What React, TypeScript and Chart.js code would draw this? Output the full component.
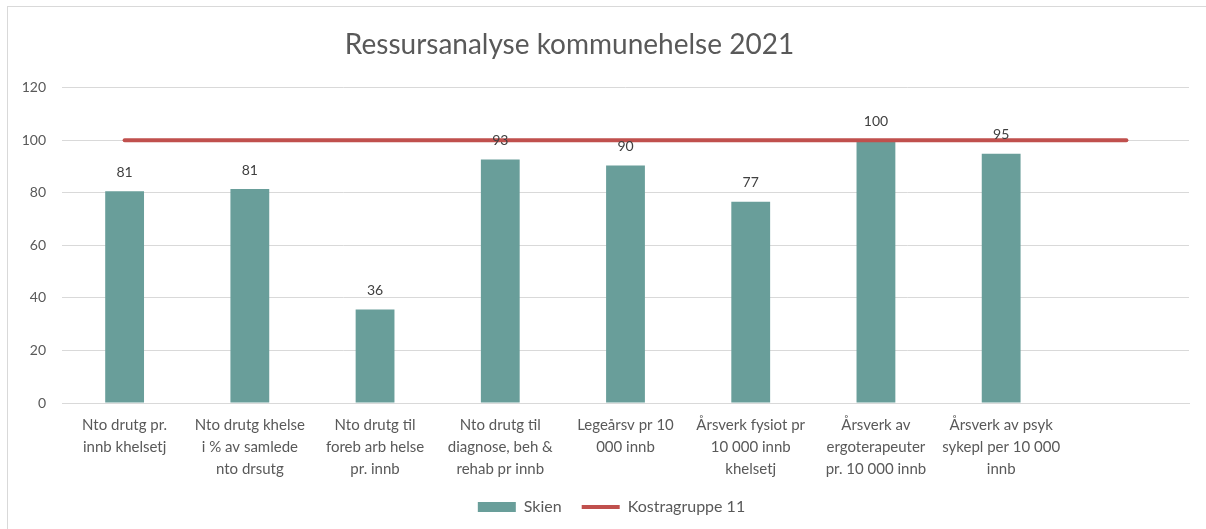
import React, { useEffect, useRef } from "react";
import { Chart, registerables } from "chart.js";

Chart.register(...registerables);

const TITLE = "Ressursanalyse kommunehelse 2021";

const CATEGORIES: string[][] = [
  ["Nto drutg pr.", "innb khelsetj"],
  ["Nto drutg khelse", "i % av samlede", "nto drsutg"],
  ["Nto drutg til", "foreb arb helse", "pr. innb"],
  ["Nto drutg til", "diagnose, beh &", "rehab pr innb"],
  ["Legeårsv pr 10", "000 innb"],
  ["Årsverk fysiot pr", "10 000 innb", "khelsetj"],
  ["Årsverk av", "ergoterapeuter", "pr. 10 000 innb"],
  ["Årsverk av psyk", "sykepl per 10 000", "innb"],
  [""],
];

const SKIEN_LABEL = "Skien";
const SKIEN: (number | null)[] = [80.6, 81.4, 35.6, 92.6, 90.4, 76.6, 100, 94.8, null];

const KOSTRA_LABEL = "Kostragruppe 11";
const KOSTRA: number[] = [100, 100, 100, 100, 100, 100, 100, 100, 100];

const Y_MIN = 0;
const Y_MAX = 120;
const Y_STEP = 20;

const FONT = "Lato";
const TEXT = "#595959";
const GRID = "#d9d9d9";
const BAR = "#699E9A";
const LINE = "#C0504D";

const valueLabels = {
  id: "valueLabels",
  afterLayout(chart: any) {
    // Title sits a little left of the canvas centre, legend a little right and higher
    if (chart.titleBlock) chart.titleBlock.right -= 58;
    if (chart.legend) {
      chart.legend.left += 13;
      chart.legend.right += 13;
      chart.legend.top -= 11;
      chart.legend.bottom -= 11;
    }
  },
  afterDatasetsDraw(chart: any) {
    const meta = chart.getDatasetMeta(0);
    const ctx = chart.ctx;
    ctx.save();
    ctx.font = `14px ${FONT}`;
    ctx.fillStyle = "#404040";
    ctx.textAlign = "center";
    ctx.textBaseline = "middle";
    meta.data.forEach((el: any, i: number) => {
      const v = SKIEN[i];
      if (v == null) return;
      ctx.fillText(String(Math.round(v)), el.x, el.y - 19);
    });
    ctx.restore();
  },
};

export default function App() {
  const ref = useRef<HTMLCanvasElement | null>(null);

  useEffect(() => {
    if (!ref.current) return;
    const chart = new Chart(ref.current, {
      type: "bar",
      data: {
        labels: CATEGORIES,
        datasets: [
          {
            type: "bar",
            label: SKIEN_LABEL,
            data: SKIEN,
            backgroundColor: BAR,
            borderWidth: 0,
            barPercentage: 0.31,
            categoryPercentage: 1,
            order: 2,
            pointStyle: "rect",
          } as any,
          {
            type: "line",
            label: KOSTRA_LABEL,
            data: KOSTRA,
            borderColor: LINE,
            backgroundColor: LINE,
            borderWidth: 4,
            borderCapStyle: "round",
            pointRadius: 0,
            pointHoverRadius: 0,
            fill: false,
            order: 1,
            pointStyle: "line",
          } as any,
        ],
      },
      options: {
        responsive: false,
        animation: false,
        layout: { padding: { left: 0, right: 17, top: 0, bottom: 1 } },
        plugins: {
          title: {
            display: true,
            text: TITLE,
            color: TEXT,
            font: { family: FONT, size: 28, weight: "normal" },
            padding: { top: 21, bottom: 26 },
          },
          legend: {
            position: "bottom",
            labels: {
              usePointStyle: true,
              pointStyleWidth: 38,
              boxHeight: 10,
              padding: 20,
              color: TEXT,
              font: { family: FONT, size: 16 },
              sort: (a: any, b: any) => a.datasetIndex - b.datasetIndex,
            },
          },
          tooltip: { enabled: false },
        },
        scales: {
          x: {
            grid: { display: false },
            border: { display: true, color: GRID },
            ticks: {
              color: TEXT,
              font: { family: FONT, size: 15, lineHeight: 1.4667 },
              padding: 3,
              maxRotation: 0,
              autoSkip: false,
            },
            afterFit: (s: any) => {
              s.height = 87;
            },
          },
          y: {
            min: Y_MIN,
            max: Y_MAX,
            grid: { color: GRID, drawTicks: false },
            border: { display: false },
            ticks: {
              stepSize: Y_STEP,
              color: TEXT,
              font: { family: FONT, size: 14 },
              padding: 16,
            },
            afterFit: (s: any) => {
              s.width = 54;
            },
          },
        },
      },
      plugins: [valueLabels],
    });
    return () => chart.destroy();
  }, []);

  return (
    <div style={{ position: "fixed", inset: 0, overflow: "hidden", background: "#fff" }}>
      <div
        style={{
          position: "absolute",
          left: 7,
          top: 6,
          width: 1220,
          height: 540,
          border: `1px solid ${GRID}`,
        }}
      >
        <canvas
          ref={ref}
          width={1198}
          height={530}
          style={{ position: "absolute", left: 0, top: 0, width: 1198, height: 530 }}
        />
      </div>
    </div>
  );
}
